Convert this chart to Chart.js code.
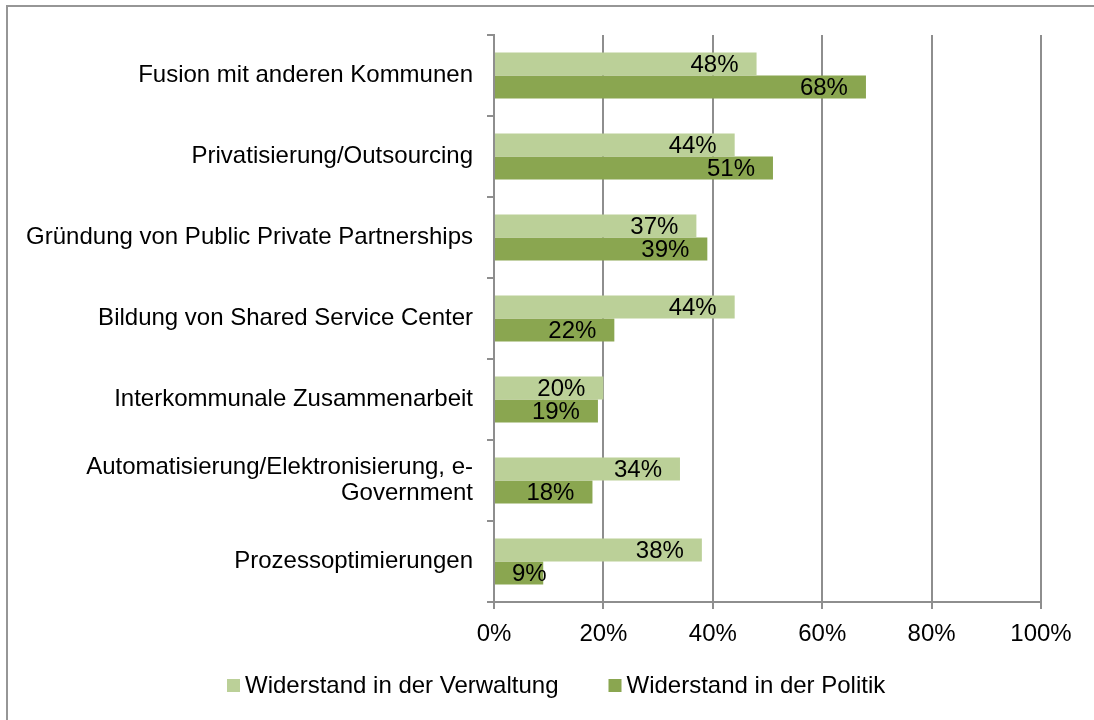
<!DOCTYPE html>
<html>
<head>
<meta charset="utf-8">
<script src="https://cdn.jsdelivr.net/npm/chart.js@4.4.1/dist/chart.umd.min.js"></script>
<style>
  html, body { margin: 0; padding: 0; background: #fff; overflow: hidden; }
  #wrap { position: relative; width: 1094px; height: 720px; }
  #frame { position: absolute; left: 6px; top: 5px; width: 2000px; height: 2000px;
           border: 2px solid #969696; pointer-events: none; }
</style>
</head>
<body>
<div id="wrap">
  <canvas id="chart" width="1094" height="720"></canvas>
  <div id="frame"></div>
</div>
<script>
// categories, top to bottom
const categories = [
  'Fusion mit anderen Kommunen',
  'Privatisierung/Outsourcing',
  'Gründung von Public Private Partnerships',
  'Bildung von Shared Service Center',
  'Interkommunale Zusammenarbeit',
  ['Automatisierung/Elektronisierung, e-', 'Government'],
  'Prozessoptimierungen'
];
const seriesNames = ['Widerstand in der Verwaltung', 'Widerstand in der Politik'];
const verwaltung = [48, 44, 37, 44, 20, 34, 38];
const politik = [68, 51, 39, 22, 19, 18, 9];
const xTicks = [0, 20, 40, 60, 80, 100];

const FONT = "'Liberation Sans', Arial, Helvetica, sans-serif";
const GRID = '#8e8e8e';
const colors = ['#bbd098', '#8aa650'];

// value labels, right aligned inside the bar end
const barLabels = {
  id: 'barLabels',
  afterDatasetsDraw(chart) {
    const ctx = chart.ctx;
    ctx.save();
    ctx.font = '24px ' + FONT;
    ctx.fillStyle = '#000';
    ctx.textAlign = 'right';
    ctx.textBaseline = 'middle';
    chart.data.datasets.forEach((ds, di) => {
      chart.getDatasetMeta(di).data.forEach((bar, i) => {
        const txt = ds.data[i] + '%';
        const w = ctx.measureText(txt).width;
        const right = Math.max(bar.x - 18, bar.base + 17 + w);
        ctx.fillText(txt, right, bar.y + 1);
      });
    });
    ctx.restore();
  }
};

// legend along the bottom, like the original
const bottomLegend = {
  id: 'bottomLegend',
  afterDraw(chart) {
    const ctx = chart.ctx;
    ctx.save();
    ctx.font = '24px ' + FONT;
    ctx.textBaseline = 'alphabetic';
    ctx.textAlign = 'left';
    let x = 227;
    const baseY = 693;
    chart.data.datasets.forEach(ds => {
      ctx.fillStyle = ds.backgroundColor;
      ctx.fillRect(x, 679, 13, 13);
      ctx.fillStyle = '#000';
      ctx.fillText(ds.label, x + 18, baseY);
      x += 18 + ctx.measureText(ds.label).width + 50;
    });
    ctx.restore();
  }
};

// small tick at the bottom end of the category axis
const bottomTick = {
  id: 'bottomTick',
  afterDraw(chart) {
    const y = chart.scales.y;
    const ctx = chart.ctx;
    ctx.save();
    ctx.strokeStyle = GRID;
    ctx.lineWidth = 2;
    ctx.beginPath();
    ctx.moveTo(y.right - 7, y.bottom);
    ctx.lineTo(y.right, y.bottom);
    ctx.stroke();
    ctx.restore();
  }
};

new Chart(document.getElementById('chart'), {
  type: 'bar',
  data: {
    labels: categories,
    datasets: [
      { label: seriesNames[0], data: verwaltung, backgroundColor: colors[0] },
      { label: seriesNames[1], data: politik, backgroundColor: colors[1] }
    ]
  },
  options: {
    indexAxis: 'y',
    responsive: false,
    animation: false,
    categoryPercentage: 0.57,
    barPercentage: 1.0,
    layout: { padding: { left: 8, right: 53, top: 35, bottom: 68 } },
    plugins: {
      legend: { display: false },
      tooltip: { enabled: false }
    },
    scales: {
      x: {
        min: 0,
        max: 100,
        afterBuildTicks(scale) { scale.ticks = xTicks.map(v => ({ value: v })); },
        afterFit(scale) { scale.height = 50; },
        ticks: {
          callback: v => v + '%',
          color: '#000',
          padding: 11,
          font: { family: FONT, size: 24 }
        },
        grid: { color: GRID, lineWidth: 2, tickLength: 7 },
        border: { color: GRID, width: 2 }
      },
      y: {
        afterFit(scale) { scale.width = 486; },
        ticks: {
          color: '#000',
          padding: 14,
          font: { family: FONT, size: 24, lineHeight: 1.1 }
        },
        grid: { offset: true, drawOnChartArea: false, drawTicks: true, tickLength: 7, color: GRID, lineWidth: 2 },
        border: { color: GRID, width: 2 }
      }
    }
  },
  plugins: [barLabels, bottomLegend, bottomTick]
});
</script>
</body>
</html>
